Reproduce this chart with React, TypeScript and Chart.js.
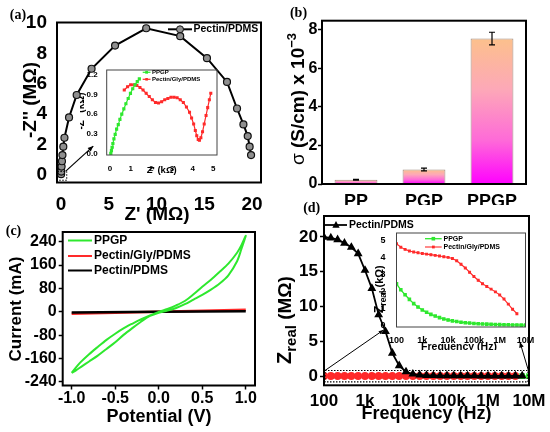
import React, { useEffect, useRef } from 'react';
import Chart from 'chart.js/auto';

const SANS = '"Liberation Sans", Arial, sans-serif';
const SERIF = '"Liberation Serif", "Times New Roman", serif';
const GREEN = '#2ee82e';
const RED = '#ff2a2a';

// (a) Nyquist plot of Pectin/PDMS, MΩ
const nyqReal = [0.01, 0.03, 0.06, 0.1, 0.15, 0.24, 0.36, 0.84, 1.64, 3.2, 5.66, 8.92, 12.48, 15.28, 17.38, 18.43, 19.1, 19.55, 19.75, 19.9];
const nyqImag = [0.05, 0.22, 0.55, 0.9, 1.31, 1.86, 2.45, 3.79, 5.27, 7.0, 8.53, 9.67, 9.15, 7.7, 6.13, 4.38, 3.33, 2.56, 1.86, 1.31];
const nyqTicksX = [0, 5, 10, 15, 20];
const nyqTicksY = [0, 2, 4, 6, 8, 10];

// (a) inset, kΩ
const ppgpReal = [0.04, 0.07, 0.1, 0.14, 0.19, 0.25, 0.32, 0.4, 0.48, 0.57, 0.67, 0.77, 0.88, 0.99, 1.1, 1.21, 1.32, 1.42];
const ppgpImag = [0.0, 0.04, 0.09, 0.15, 0.22, 0.29, 0.37, 0.44, 0.52, 0.6, 0.68, 0.76, 0.84, 0.92, 0.99, 1.05, 1.1, 1.14];
const pgpReal = [0.69, 0.85, 1.0, 1.15, 1.3, 1.45, 1.6, 1.75, 1.9, 2.05, 2.2, 2.35, 2.5, 2.65, 2.8, 2.95, 3.1, 3.25, 3.4, 3.55, 3.7, 3.85, 3.95, 4.05, 4.13, 4.2, 4.27, 4.33, 4.4, 4.48, 4.56, 4.65, 4.73, 4.81, 4.88];
const pgpImag = [0.97, 1.02, 1.05, 1.05, 1.04, 1.01, 0.97, 0.92, 0.87, 0.82, 0.78, 0.77, 0.79, 0.82, 0.84, 0.86, 0.86, 0.85, 0.82, 0.78, 0.71, 0.63, 0.54, 0.45, 0.35, 0.27, 0.21, 0.2, 0.24, 0.33, 0.45, 0.58, 0.7, 0.82, 0.92];
const insetTicksX = [0, 1, 2, 3, 4, 5];
const insetTicksY = [0, 0.3, 0.6, 0.9, 1.2];

// (b) conductivity
const samples = ['PP', 'PGP', 'PPGP'];
const sigma = [0.22, 0.75, 7.55];
const sigmaErr = [0.02, 0.07, 0.33];
const sigmaTicks = [0, 2, 4, 6, 8];

// (c) cyclic voltammetry
const cvPot = [-1, -0.95, -0.9, -0.8, -0.7, -0.6, -0.5, -0.4, -0.3, -0.2, -0.1, 0, 0.1, 0.2, 0.3, 0.4, 0.5, 0.6, 0.7, 0.8, 0.9, 0.95, 1,
  0.95, 0.9, 0.8, 0.7, 0.6, 0.5, 0.4, 0.3, 0.2, 0.1, 0, -0.1, -0.2, -0.3, -0.4, -0.5, -0.6, -0.7, -0.8, -0.9, -0.95, -1];
const cvCur = [-209, -190, -173, -145, -120, -96, -75, -56, -40, -25, -12, 0, 10, 22, 37, 60, 86, 110, 137, 165, 202, 228, 260,
  215, 173, 125, 97, 76, 58, 42, 26, 13, 4, -3, -14, -33, -55, -78, -104, -127, -150, -170, -190, -200, -209];
const potLine = [-1, 0, 1];
const curPecGly = [-7, 0, 7];
const curPec = [-2, 0, 2];
const potTicks = [-1, -0.5, 0, 0.5, 1];
const curTicks = [-240, -160, -80, 0, 80, 160, 240];

// (d) Z real vs frequency
const freq = [100, 147, 215, 316, 464, 681, 1000, 1468, 2154, 3162, 4642, 6813, 10000, 14678, 21544, 31623, 46416, 68129,
  100000, 146780, 215440, 316230, 464160, 681290, 1000000, 1467800, 2154400, 3162300, 4641600, 6812900, 10000000];
const zPec = [19.95, 19.85, 19.6, 19.1, 18.5, 17.6, 15.2, 12.6, 8.8, 6.4, 3.3, 1.5, 0.62, 0.29, 0.16, 0.1, 0.08, 0.06, 0.05,
  0.05, 0.04, 0.04, 0.04, 0.03, 0.03, 0.03, 0.03, 0.03, 0.03, 0.03]; // MΩ
const zPpgp = [2.47, 2.12, 1.83, 1.56, 1.31, 1.11, 0.94, 0.8, 0.68, 0.58, 0.49, 0.41, 0.35, 0.3, 0.26, 0.22, 0.19, 0.17, 0.15,
  0.13, 0.12, 0.11, 0.1, 0.09, 0.08, 0.07, 0.07, 0.06, 0.06, 0.05, 0.05]; // kΩ
const zPecGly = [4.82, 4.62, 4.49, 4.4, 4.34, 4.29, 4.25, 4.21, 4.18, 4.14, 4.1, 4.06, 4.02, 3.95, 3.82, 3.62, 3.4, 3.15, 2.9,
  2.68, 2.48, 2.31, 2.16, 2.0, 1.82, 1.58, 1.28, 0.98, 0.72]; // kΩ
const freqTicks = [100, 1e3, 1e4, 1e5, 1e6, 1e7];
const freqTickLabels = ['100', '1k', '10k', '100k', '1M', '10M'];
const zTicks = [0, 5, 10, 15, 20];
const zInsetTicks = [0, 1, 2, 3, 4, 5];

type Box = { left: number; top: number; width: number; height: number };
type Area = { x0: number; y0: number; x1: number; y1: number };
type Run = { t: string; size: number; weight?: string; dy?: number };

const fnt = (size: number, weight = 'bold', family = SANS) => `${weight} ${size}px ${family}`;

function layoutFor(box: Box, area: Area) {
  return {
    padding: { left: 0, top: area.y0 - box.top, right: box.left + box.width - area.x1, bottom: 0 },
    yWidth: area.x0 - box.left,
    xHeight: box.top + box.height - area.y1,
  };
}

function axis(o: any) {
  return {
    type: o.type ?? 'linear',
    min: o.min,
    max: o.max,
    afterBuildTicks: (s: any) => { s.ticks = o.values.map((v: number) => ({ value: v })); },
    afterFit: o.fit,
    border: { display: false },
    grid: o.tick
      ? { display: true, drawOnChartArea: false, drawTicks: true, tickLength: o.tick, tickWidth: 1.5, tickColor: '#000' }
      : { display: false },
    ticks: {
      autoSkip: false, maxRotation: 0, minRotation: 0, padding: o.pad, color: '#000',
      font: { family: SANS, size: o.size, weight: 'bold', lineHeight: 1 },
      callback: o.fmt ? (v: any, i: number) => o.fmt(Number(v), i) : (v: any) => String(v),
    },
  };
}

function baseOptions(L: any, scales: any) {
  return {
    responsive: false,
    animation: false,
    events: [],
    layout: { padding: L.padding },
    plugins: { legend: { display: false }, tooltip: { enabled: false } },
    scales,
  };
}

function rich(ctx: CanvasRenderingContext2D, runs: Run[], x: number, y: number, rot = 0, align = 'center') {
  ctx.save();
  ctx.translate(x, y);
  ctx.rotate(rot);
  ctx.fillStyle = '#000';
  ctx.textAlign = 'left';
  ctx.textBaseline = 'alphabetic';
  const widths = runs.map((r) => { ctx.font = fnt(r.size, r.weight ?? 'bold'); return ctx.measureText(r.t).width; });
  const total = widths.reduce((a, b) => a + b, 0);
  const base = Math.max(...runs.map((r) => r.size)) * 0.36;
  let cx = align === 'center' ? -total / 2 : 0;
  runs.forEach((r, i) => {
    ctx.font = fnt(r.size, r.weight ?? 'bold');
    ctx.fillText(r.t, cx, base + (r.dy ?? 0));
    cx += widths[i];
  });
  ctx.restore();
}

function label(ctx: CanvasRenderingContext2D, t: string, x: number, y: number) {
  ctx.save();
  ctx.font = fnt(14, 'bold', SERIF);
  ctx.fillStyle = '#000';
  ctx.textAlign = 'center';
  ctx.textBaseline = 'middle';
  ctx.fillText(t, x, y);
  ctx.restore();
}

function arrow(ctx: CanvasRenderingContext2D, x1: number, y1: number, x2: number, y2: number, head = 6, w = 1.2) {
  ctx.save();
  ctx.strokeStyle = '#000';
  ctx.fillStyle = '#000';
  ctx.lineWidth = w;
  ctx.beginPath(); ctx.moveTo(x1, y1); ctx.lineTo(x2, y2); ctx.stroke();
  const a = Math.atan2(y2 - y1, x2 - x1);
  ctx.beginPath();
  ctx.moveTo(x2, y2);
  ctx.lineTo(x2 - head * Math.cos(a - 0.4), y2 - head * Math.sin(a - 0.4));
  ctx.lineTo(x2 - head * Math.cos(a + 0.4), y2 - head * Math.sin(a + 0.4));
  ctx.closePath(); ctx.fill();
  ctx.restore();
}

function marker(ctx: CanvasRenderingContext2D, style: string, x: number, y: number, r: number, fill: string, stroke?: string) {
  ctx.beginPath();
  if (style === 'circle') ctx.arc(x, y, r, 0, Math.PI * 2);
  else if (style === 'rect') ctx.rect(x - r, y - r, 2 * r, 2 * r);
  else { ctx.moveTo(x, y - r * 1.2); ctx.lineTo(x + r * 1.1, y + r * 0.8); ctx.lineTo(x - r * 1.1, y + r * 0.8); ctx.closePath(); }
  ctx.fillStyle = fill; ctx.fill();
  if (stroke) { ctx.strokeStyle = stroke; ctx.lineWidth = 1; ctx.stroke(); }
}

function legendItem(ctx: CanvasRenderingContext2D, x0: number, x1: number, y: number, color: string, lw: number,
  mk: any, text: string, size: number, tx: number) {
  ctx.save();
  ctx.strokeStyle = color; ctx.lineWidth = lw;
  ctx.beginPath(); ctx.moveTo(x0, y); ctx.lineTo(x1, y); ctx.stroke();
  if (mk) marker(ctx, mk.style, (x0 + x1) / 2, y, mk.r, mk.fill, mk.stroke);
  ctx.fillStyle = '#000'; ctx.font = fnt(size); ctx.textBaseline = 'middle'; ctx.textAlign = 'left';
  ctx.fillText(text, tx, y);
  ctx.restore();
}

function decor(box: Box, frameW: number, frameColor: string, draw: (ctx: CanvasRenderingContext2D, chart: any, X: any, Y: any) => void) {
  return {
    id: 'decor',
    afterDraw(chart: any) {
      const ctx = chart.ctx;
      const a = chart.chartArea;
      ctx.save();
      ctx.strokeStyle = frameColor; ctx.lineWidth = frameW;
      ctx.strokeRect(a.left, a.top, a.right - a.left, a.bottom - a.top);
      ctx.translate(-box.left, -box.top);
      const X = (v: number) => chart.scales.x.getPixelForValue(v) + box.left;
      const Y = (v: number) => chart.scales.y.getPixelForValue(v) + box.top;
      draw(ctx, chart, X, Y);
      ctx.restore();
    },
  };
}

const xy = (xs: number[], ys: number[], k = 1) => ys.map((y, i) => ({ x: xs[i], y: y * k }));

// ---------- panel builders ----------
const A_BOX = { left: 0, top: 0, width: 275, height: 228 };
const A_AREA = { x0: 57, y0: 22.5, x1: 261, y1: 182.5 };
function makeA(canvas: HTMLCanvasElement) {
  const L = layoutFor(A_BOX, A_AREA);
  return new Chart(canvas, {
    type: 'scatter',
    data: {
      datasets: [{
        data: xy(nyqReal, nyqImag), showLine: true, borderColor: '#000', borderWidth: 2, tension: 0,
        pointRadius: 3.5, pointBackgroundColor: '#8f8f8f', pointBorderColor: '#111', pointBorderWidth: 1.2,
      }],
    },
    options: baseOptions(L, {
      x: axis({ min: -0.42, max: 20.94, values: nyqTicksX, size: 19, pad: 5, fit: (s: any) => { s.height = L.xHeight; } }),
      y: axis({ min: -0.5, max: 10.05, values: nyqTicksY, size: 19, pad: 2, fit: (s: any) => { s.width = L.yWidth; } }),
    }) as any,
    plugins: [decor(A_BOX, 2, '#000', (ctx, chart, X, Y) => {
      ctx.save();
      ctx.setLineDash([1.5, 1.5]); ctx.lineWidth = 1; ctx.strokeStyle = '#000';
      ctx.strokeRect(X(-0.38), Y(0.22), X(0.6) - X(-0.38), Y(-0.35) - Y(0.22));
      ctx.restore();
      arrow(ctx, X(0.5), Y(0.25), X(3.38), Y(1.9), 6, 1.2);
      legendItem(ctx, 168, 192, 29.3, '#000', 2, { style: 'circle', r: 3.5, fill: '#8f8f8f', stroke: '#111' }, 'Pectin/PDMS', 10.5, 193.5);
      rich(ctx, [{ t: "Z' (MΩ)", size: 19 }], 157, 213);
      rich(ctx, [{ t: "-Z'' (MΩ)", size: 19 }], 29.5, 100, -Math.PI / 2);
      label(ctx, '(a)', 18, 15);
    })],
  });
}

const AI_BOX = { left: 80, top: 60, width: 150, height: 120 };
const AI_AREA = { x0: 106.7, y0: 70, x1: 217, y1: 155 };
function makeAInset(canvas: HTMLCanvasElement) {
  const L = layoutFor(AI_BOX, AI_AREA);
  return new Chart(canvas, {
    type: 'scatter',
    data: {
      datasets: [
        { data: xy(ppgpReal, ppgpImag), showLine: true, borderColor: GREEN, borderWidth: 1.2, pointStyle: 'rect', pointRadius: 1.4, pointBackgroundColor: GREEN, pointBorderColor: GREEN },
        { data: xy(pgpReal, pgpImag), showLine: true, borderColor: RED, borderWidth: 1.2, pointStyle: 'rect', pointRadius: 1.3, pointBackgroundColor: RED, pointBorderColor: RED },
      ],
    },
    options: baseOptions(L, {
      x: axis({ min: -0.16, max: 5.18, values: insetTicksX, size: 8, pad: 2, fit: (s: any) => { s.height = L.xHeight; } }),
      y: axis({ min: -0.026, max: 1.277, values: insetTicksY, size: 8, pad: 1, fmt: (v: number) => v.toFixed(1), fit: (s: any) => { s.width = L.yWidth; } }),
    }) as any,
    plugins: [decor(AI_BOX, 1, '#444', (ctx) => {
      legendItem(ctx, 142.7, 150.5, 72.3, GREEN, 1.2, { style: 'rect', r: 1.4, fill: GREEN }, 'PPGP', 6, 152);
      legendItem(ctx, 142.7, 150.5, 79.3, RED, 1.2, { style: 'rect', r: 1.3, fill: RED }, 'Pectin/Gly/PDMS', 6, 152);
      rich(ctx, [{ t: "Z' (kΩ)", size: 9.5 }], 161.7, 170);
      rich(ctx, [{ t: "-Z'' (kΩ)", size: 10 }], 80, 111, -Math.PI / 2);
    })],
  });
}

const B_BOX = { left: 275, top: 0, width: 275, height: 205 };
const B_AREA = { x0: 322, y0: 20.7, x1: 526, y1: 184 };
function makeB(canvas: HTMLCanvasElement) {
  const L = layoutFor(B_BOX, B_AREA);
  const fill = (c: any) => {
    const chart = c.chart;
    const ys = chart.scales && chart.scales.y;
    if (!ys || !chart.chartArea) return '#fd9ccc';
    const top = ys.getPixelForValue(c.raw);
    const bot = ys.getPixelForValue(0);
    if (!isFinite(top) || !isFinite(bot) || bot - top < 1) return '#fd9ccc';
    const g = chart.ctx.createLinearGradient(0, top, 0, bot);
    g.addColorStop(0, '#fcc08c');
    g.addColorStop(0.35, '#fda8b8');
    g.addColorStop(0.7, '#fe6ad8');
    g.addColorStop(1, '#ff00ff');
    return g;
  };
  return new Chart(canvas, {
    type: 'bar',
    data: {
      labels: samples,
      datasets: [{ data: sigma, backgroundColor: fill, borderColor: '#a08c80', borderWidth: 1, barPercentage: 0.63, categoryPercentage: 1 }],
    },
    options: baseOptions(L, {
      x: {
        type: 'category', offset: true, afterFit: (s: any) => { s.height = L.xHeight; },
        border: { display: false }, grid: { display: false },
        ticks: { padding: 1, color: '#000', font: { family: SANS, size: 18, weight: 'bold', lineHeight: 1 } },
      },
      y: axis({ min: 0, max: 8.48, values: sigmaTicks, size: 16, pad: 0.5, tick: 4, fit: (s: any) => { s.width = L.yWidth; } }),
    }) as any,
    plugins: [decor(B_BOX, 2, '#000', (ctx, chart, X, Y) => {
      const meta = chart.getDatasetMeta(0);
      ctx.save();
      ctx.strokeStyle = '#000'; ctx.lineWidth = 1.2;
      sigma.forEach((v, i) => {
        const x = meta.data[i].x + B_BOX.left;
        const t = Y(v + sigmaErr[i]);
        const b = Y(v - sigmaErr[i]);
        ctx.beginPath();
        ctx.moveTo(x, t); ctx.lineTo(x, b);
        ctx.moveTo(x - 3, t); ctx.lineTo(x + 3, t);
        ctx.moveTo(x - 3, b); ctx.lineTo(x + 3, b);
        ctx.stroke();
      });
      ctx.restore();
      rich(ctx, [{ t: 'σ', size: 19, weight: 'normal' }, { t: ' (S/cm) x 10', size: 19 }, { t: '−3', size: 13, dy: -8 }], 297, 99, -Math.PI / 2);
      label(ctx, '(b)', 298.5, 13);
    })],
  });
}

const C_BOX = { left: 0, top: 216, width: 275, height: 216 };
const C_AREA = { x0: 62.7, y0: 232, x1: 255, y1: 385.5 };
function makeC(canvas: HTMLCanvasElement) {
  const L = layoutFor(C_BOX, C_AREA);
  return new Chart(canvas, {
    type: 'scatter',
    data: {
      datasets: [
        { data: xy(cvPot, cvCur), showLine: true, borderColor: GREEN, borderWidth: 2, pointRadius: 0, tension: 0.3 },
        { data: xy(potLine, curPec), showLine: true, borderColor: '#000', borderWidth: 2.5, pointRadius: 0 },
        { data: xy(potLine, curPecGly), showLine: true, borderColor: RED, borderWidth: 2.5, pointRadius: 0 },
      ],
    },
    options: baseOptions(L, {
      x: axis({ min: -1.103, max: 1.106, values: potTicks, size: 16, pad: 1, tick: 4, fmt: (v: number) => v.toFixed(1), fit: (s: any) => { s.height = L.xHeight; } }),
      y: axis({ min: -252, max: 273, values: curTicks, size: 16, pad: 2, tick: 4, fit: (s: any) => { s.width = L.yWidth; } }),
    }) as any,
    plugins: [decor(C_BOX, 2, '#000', (ctx) => {
      legendItem(ctx, 68, 92, 240.5, GREEN, 2, null, 'PPGP', 12, 94);
      legendItem(ctx, 68, 92, 256, RED, 2, null, 'Pectin/Gly/PDMS', 12, 94);
      legendItem(ctx, 68, 92, 270.5, '#000', 2, null, 'Pectin/PDMS', 12, 94);
      rich(ctx, [{ t: 'Potential (V)', size: 18 }], 159, 415.3);
      rich(ctx, [{ t: 'Current (mA)', size: 17 }], 14.5, 309, -Math.PI / 2);
      label(ctx, '(c)', 13.5, 231);
    })],
  });
}

const D_BOX = { left: 275, top: 196, width: 275, height: 236 };
const D_AREA = { x0: 324, y0: 216, x1: 529, y1: 385.3 };
function makeD(canvas: HTMLCanvasElement) {
  const L = layoutFor(D_BOX, D_AREA);
  return new Chart(canvas, {
    type: 'scatter',
    data: {
      datasets: [
        { data: xy(freq, zPec), showLine: true, borderColor: '#000', borderWidth: 1.8, pointStyle: 'triangle', pointRadius: 3.3, pointBackgroundColor: '#000', pointBorderColor: '#000' },
        { data: xy(freq, zPecGly, 0.001), showLine: true, borderColor: RED, borderWidth: 1.5, pointStyle: 'circle', pointRadius: 3.2, pointBackgroundColor: RED, pointBorderColor: RED },
        { data: xy(freq, zPpgp, 0.001), showLine: true, borderColor: GREEN, borderWidth: 1.5, pointStyle: 'rect', pointRadius: 3, pointBackgroundColor: GREEN, pointBorderColor: GREEN },
      ],
    },
    options: baseOptions(L, {
      x: axis({ type: 'logarithmic', min: 100, max: 1e7, values: freqTicks, size: 17, pad: 0, fmt: (_v: number, i: number) => freqTickLabels[i], fit: (s: any) => { s.height = L.xHeight; } }),
      y: axis({ min: -1.33, max: 23, values: zTicks, size: 17, pad: 2, tick: 4, fit: (s: any) => { s.width = L.yWidth; } }),
    }) as any,
    plugins: [decor(D_BOX, 2, '#000', (ctx, chart, X, Y) => {
      ctx.save();
      ctx.setLineDash([1.5, 1.5]); ctx.lineWidth = 1.2; ctx.strokeStyle = '#000';
      ctx.strokeRect(X(100) + 1, Y(0.8), X(1e7) - X(100) - 2, Y(-0.85) - Y(0.8));
      ctx.restore();
      arrow(ctx, X(100) + 1, Y(0.8), X(2800), Y(6.6), 5, 1);
      arrow(ctx, X(9.6e6), Y(0.85), X(6e6), Y(4.9), 6, 1);
      legendItem(ctx, 325, 347, 225, '#000', 1.8, { style: 'triangle', r: 3.3, fill: '#000' }, 'Pectin/PDMS', 10.5, 349);
      rich(ctx, [{ t: 'Frequency (Hz)', size: 18 }], 426.5, 412.7);
      rich(ctx, [{ t: 'Z', size: 20 }, { t: 'real', size: 15, dy: 5 }, { t: ' (MΩ)', size: 19 }], 283.5, 364, -Math.PI / 2, 'left');
      label(ctx, '(d)', 311.7, 208);
    })],
  });
}

const DI_BOX = { left: 370, top: 225, width: 180, height: 125 };
const DI_AREA = { x0: 396.5, y0: 233, x1: 525.5, y1: 327 };
function makeDInset(canvas: HTMLCanvasElement) {
  const L = layoutFor(DI_BOX, DI_AREA);
  return new Chart(canvas, {
    type: 'scatter',
    data: {
      datasets: [
        { data: xy(freq, zPpgp), showLine: true, borderColor: GREEN, borderWidth: 1.3, pointStyle: 'rect', pointRadius: 1.6, pointBackgroundColor: GREEN, pointBorderColor: GREEN },
        { data: xy(freq, zPecGly), showLine: true, borderColor: RED, borderWidth: 1.1, pointStyle: 'rect', pointRadius: 1.3, pointBackgroundColor: RED, pointBorderColor: RED },
      ],
    },
    options: baseOptions(L, {
      x: axis({ type: 'logarithmic', min: 100, max: 1e7, values: freqTicks, size: 9, pad: 1.5, fmt: (_v: number, i: number) => freqTickLabels[i], fit: (s: any) => { s.height = L.xHeight; } }),
      y: axis({ min: -0.06, max: 5.45, values: zInsetTicks, size: 9, pad: 3, fit: (s: any) => { s.width = L.yWidth; } }),
    }) as any,
    plugins: [decor(DI_BOX, 1, '#444', (ctx) => {
      legendItem(ctx, 425, 441.7, 238.7, GREEN, 1.3, { style: 'rect', r: 1.8, fill: GREEN }, 'PPGP', 7, 443.5);
      legendItem(ctx, 425, 441.7, 247, RED, 1.1, { style: 'rect', r: 1.4, fill: RED }, 'Pectin/Gly/PDMS', 7, 443.5);
      rich(ctx, [{ t: 'Frequency (Hz)', size: 10.5 }], 459, 346);
      rich(ctx, [{ t: 'Z', size: 12 }, { t: 'real', size: 8.5, dy: 3 }, { t: ' (kΩ)', size: 11 }], 378.5, 313, -Math.PI / 2, 'left');
    })],
  });
}

function Panel({ box, make }: { box: Box; make: (c: HTMLCanvasElement) => Chart }) {
  const ref = useRef<HTMLCanvasElement>(null);
  useEffect(() => {
    if (!ref.current) return;
    const chart = make(ref.current);
    return () => chart.destroy();
  }, [make]);
  return (
    <canvas
      ref={ref}
      width={box.width}
      height={box.height}
      style={{ position: 'absolute', left: box.left, top: box.top, width: box.width, height: box.height }}
    />
  );
}

export default function App() {
  return (
    <div style={{ position: 'absolute', left: 0, top: 0, width: 550, height: 432, background: '#fff', overflow: 'hidden' }}>
      <Panel box={A_BOX} make={makeA} />
      <Panel box={B_BOX} make={makeB} />
      <Panel box={C_BOX} make={makeC} />
      <Panel box={D_BOX} make={makeD} />
      <Panel box={AI_BOX} make={makeAInset} />
      <Panel box={DI_BOX} make={makeDInset} />
    </div>
  );
}
